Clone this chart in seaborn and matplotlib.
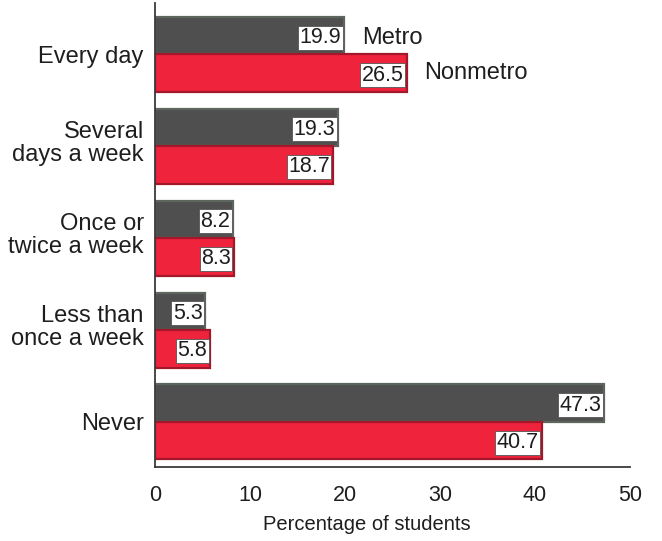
import matplotlib
matplotlib.use("Agg")
import matplotlib.pyplot as plt
import matplotlib.transforms as mtransforms
import seaborn as sns
import pandas as pd

categories = ["Every day", "Several\ndays a week", "Once or\ntwice a week", "Less than\nonce a week", "Never"]
metro = [19.9, 19.3, 8.2, 5.3, 47.3]
nonmetro = [26.5, 18.7, 8.3, 5.8, 40.7]
groups = ["Metro", "Nonmetro"]
x_ticks = [0, 10, 20, 30, 40, 50]

df = pd.DataFrame({
    "cat": categories * 2,
    "val": metro + nonmetro,
    "grp": [groups[0]] * len(categories) + [groups[1]] * len(categories),
})

sns.set_style("white")
plt.rcParams["font.family"] = ["Liberation Sans", "DejaVu Sans"]
txt = "#1e1e1e"

fig = plt.figure(figsize=(6.62, 5.41), dpi=100)
ax = fig.add_axes([0.2341, 0.1368, 0.7175, 0.8577])

palette = {"Metro": "#4f4f4f", "Nonmetro": "#f0233c"}
sns.barplot(data=df, y="cat", x="val", hue="grp", order=categories, hue_order=groups,
            palette=palette, orient="h", width=0.816, legend=False, ax=ax, saturation=1)

edges = {"Metro": "#5d665d", "Nonmetro": "#a3172a"}
for cont, g in zip(ax.containers, groups):
    for bar, v in zip(cont, df[df.grp == g].val):
        bar.set_edgecolor(edges[g])
        bar.set_linewidth(1.6)
        y = bar.get_y() + bar.get_height() / 2
        ax.text(v - 0.3, y + 0.02, f"{v:.1f}", ha="right", va="center", fontsize=15.5, color=txt,
                bbox=dict(boxstyle="square,pad=0.07", fc="white", ec="#555555", lw=0.6))

# series labels beside first group
b0 = ax.containers[0][0]
b1 = ax.containers[1][0]
ax.annotate("Metro", (metro[0], b0.get_y() + b0.get_height() / 2), xytext=(13, -1.5),
            textcoords="offset points", va="center", fontsize=17, color=txt)
ax.annotate("Nonmetro", (nonmetro[0], b1.get_y() + b1.get_height() / 2), xytext=(12.5, 0),
            textcoords="offset points", va="center", fontsize=17, color=txt)

ax.set_xlim(0, 50)
ax.set_ylim(4.49, -0.56)
ax.set_xticks(x_ticks)
ax.set_xticklabels([str(t) for t in x_ticks])
ax.set_xlabel("Percentage of students", fontsize=14.5, color=txt)
ax.xaxis.set_label_coords(0.446, -0.103)
ax.set_ylabel("")
ax.tick_params(axis="x", direction="in", length=8, width=1.2, labelsize=15.5, pad=13, colors=txt)
ax.tick_params(axis="y", length=0, labelsize=17, pad=8, colors=txt)
shift = mtransforms.ScaledTranslation(0, 6 / 100, fig.dpi_scale_trans)
for lab in ax.get_yticklabels():
    lab.set_horizontalalignment("right")
    lab.set_multialignment("right")
    lab.set_linespacing(1.07)
    if "\n" in lab.get_text():
        lab.set_transform(lab.get_transform() + shift)
for s in ["top", "right"]:
    ax.spines[s].set_visible(False)
for s in ["left", "bottom"]:
    ax.spines[s].set_color("#3a3a3a")
    ax.spines[s].set_linewidth(1.3)

fig.savefig("out.png", dpi=100)
